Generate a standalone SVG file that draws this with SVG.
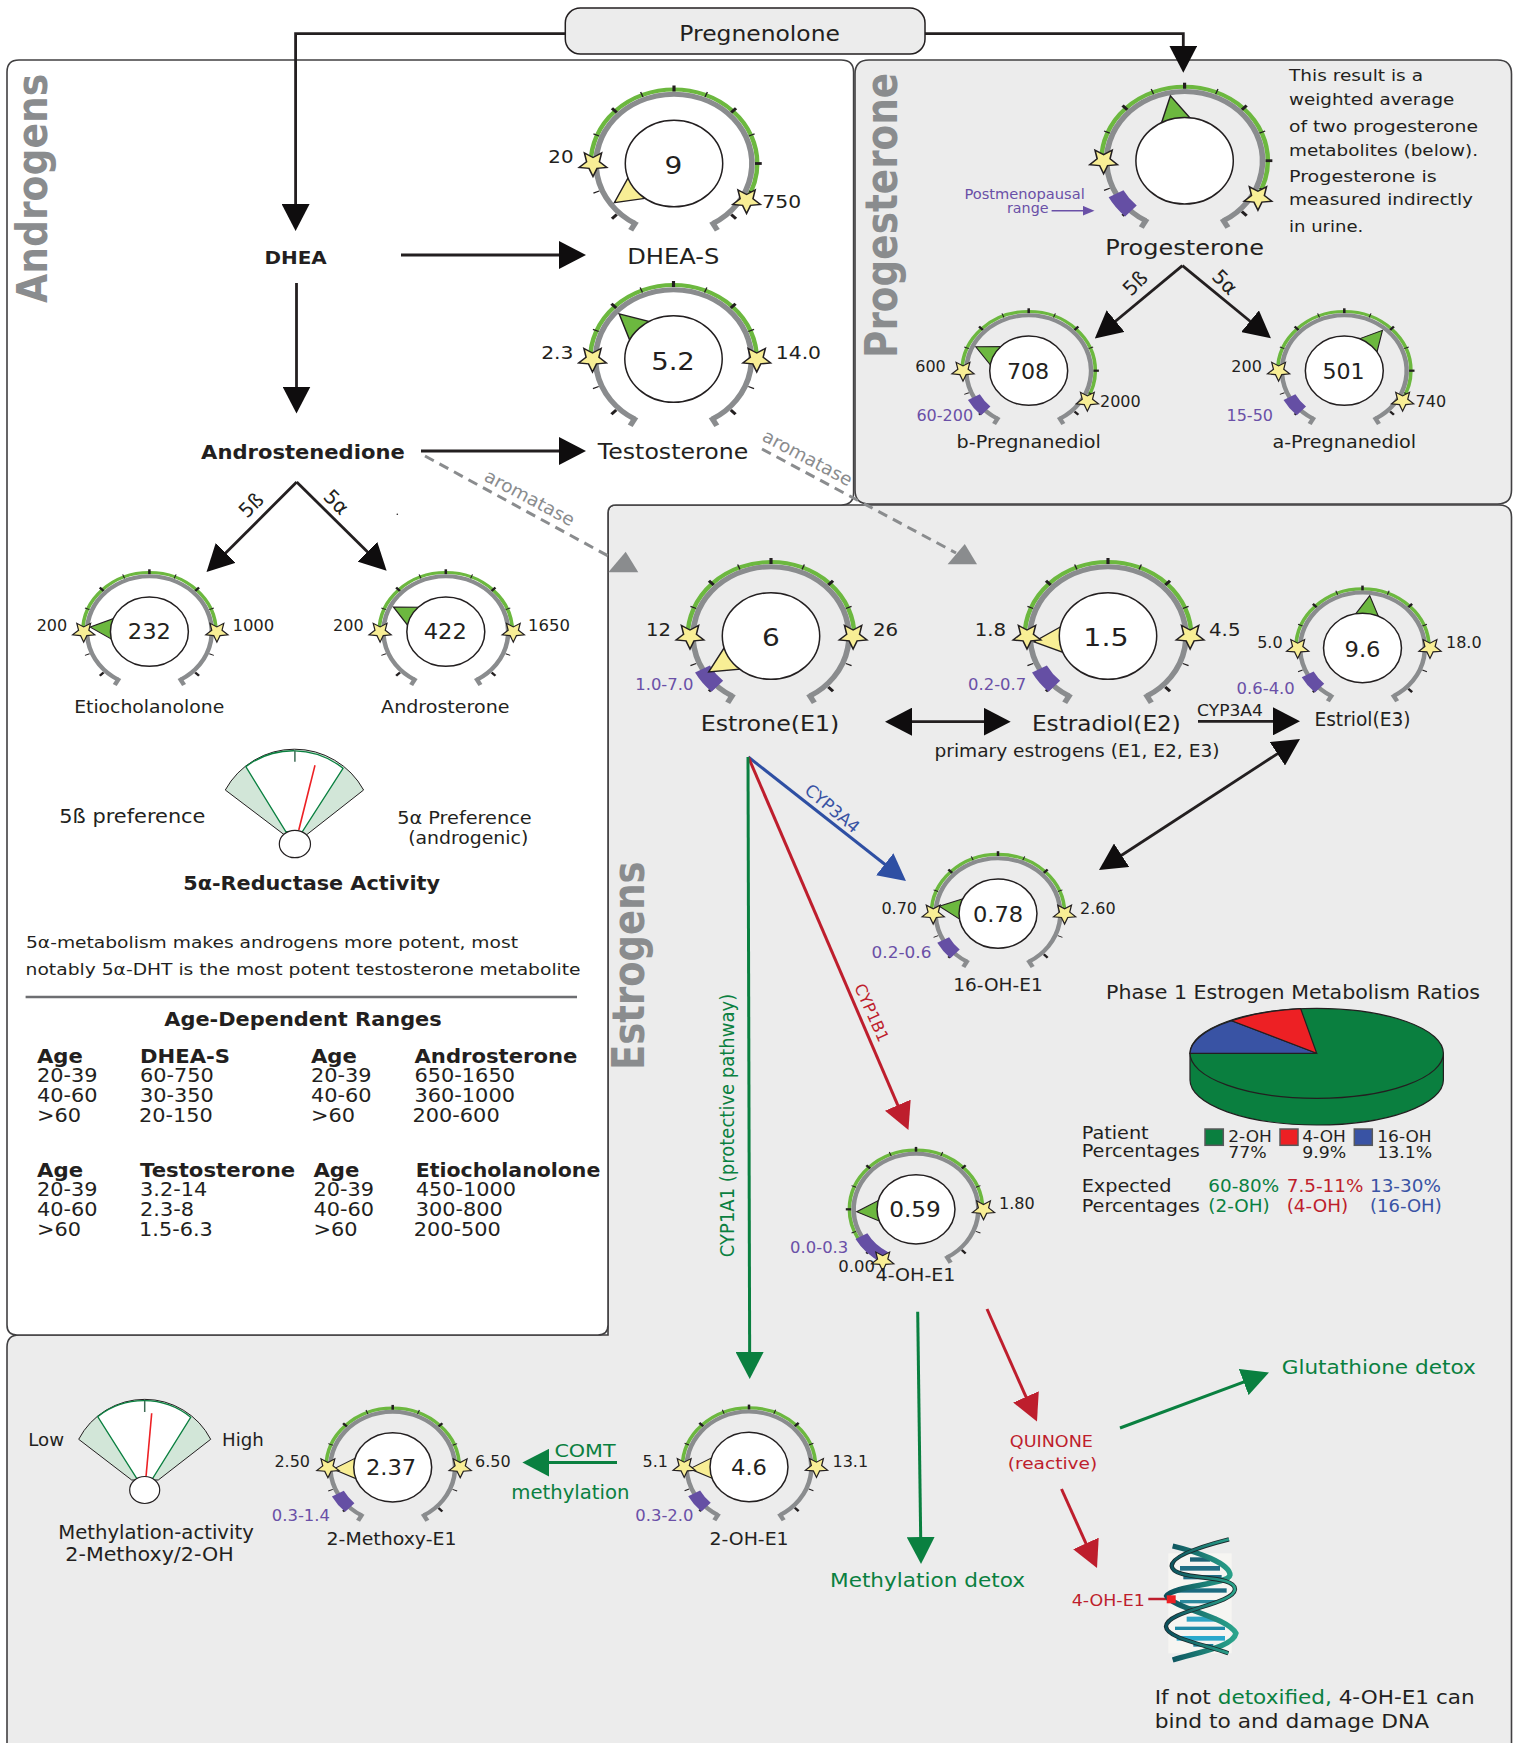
<svg xmlns="http://www.w3.org/2000/svg" width="1517" height="1743" viewBox="0 0 1517 1743">
<style>
text{font-family:"DejaVu Sans","Liberation Sans",sans-serif;fill:#231f20}
.m{text-anchor:middle}.e{text-anchor:end}.b{font-weight:bold}
.s15{font-size:15.5px}.s16{font-size:16px}.s17{font-size:17.5px}.s18{font-size:18px}.s19{font-size:19.5px}.s20{font-size:20px}.s21{font-size:21.5px}.s25{font-size:25px}
.pu{fill:#6a50a7}.gn{fill:#0a8040}.rd{fill:#be1e2d}.bl{fill:#3953a4}.gy{fill:#8a8c8e}
.ttl{font-weight:bold;fill:#8a8c8e}
.panel{stroke:#414042;stroke-width:1.6}
.ln{fill:none;stroke:#231f20;stroke-width:2.8}
.g{fill:none;stroke:#6cb83f;stroke-width:4}
.pr{fill:none;stroke:#654fa4;stroke-width:15}
.dl{fill:none;stroke:#8a8c8e;stroke-width:5}
.tm{stroke:#231f20;stroke-width:2.8}.tn{stroke:#231f20;stroke-width:1.2}
.py{fill:#f8ee95;stroke:#231f20;stroke-width:1.3;vector-effect:non-scaling-stroke}
.pg{fill:#6cb83f;stroke:#231f20;stroke-width:1.3;vector-effect:non-scaling-stroke}
.in{fill:#fff;stroke:#231f20;stroke-width:1.5;vector-effect:non-scaling-stroke}
.st{fill:#f8ee95;stroke:#231f20;stroke-width:1.4;vector-effect:non-scaling-stroke}
.sec{fill:#d2e6d8;stroke:#231f20;stroke-width:1}
.mid{fill:#fff;stroke:#0a8040;stroke-width:1.3}
</style>
<defs>
<path id="ring" d="M0,74A74,74 0 1 1 0,-74A74,74 0 1 1 0,74" pathLength="360"/>
<path id="ring2" d="M0,69.3A69.3,69.3 0 1 1 0,-69.3A69.3,69.3 0 1 1 0,69.3" pathLength="360"/>
<polygon id="star" points="0,13 3.53,4.85 12.36,4.02 5.71,-1.85 7.64,-10.52 0,-6 -7.64,-10.52 -5.71,-1.85 -12.36,4.02 -3.53,4.85"/>
<path id="pt" d="M0,-66L15,-37H-15Z"/>
<line id="M" class="tm" x1="0" y1="-72" x2="0" y2="-78"/>
<line id="N" class="tn" x1="0" y1="-72" x2="0" y2="-77.5"/>
<g id="dial">
<path class="dl" d="M-34.65,60A69.3,69.3 0 1 1 34.65,60"/>
<line class="dl" stroke-width="4" x1="0" y1="-67" x2="0" y2="-77" transform="rotate(150)"/>
<line class="dl" stroke-width="4" x1="0" y1="-67" x2="0" y2="-77" transform="rotate(-150)"/>
<use href="#M"/><use href="#N" transform="rotate(22.5)"/><use href="#M" transform="rotate(45)"/><use href="#N" transform="rotate(67.5)"/><use href="#M" transform="rotate(90)"/><use href="#N" transform="rotate(112.5)"/><use href="#M" transform="rotate(135)"/>
<use href="#N" transform="rotate(-22.5)"/><use href="#M" transform="rotate(-45)"/><use href="#N" transform="rotate(-67.5)"/><use href="#M" transform="rotate(-90)"/><use href="#N" transform="rotate(-112.5)"/><use href="#M" transform="rotate(-135)"/>
</g>
<marker id="ak" markerUnits="userSpaceOnUse" markerWidth="27" markerHeight="28" refX="17" refY="14" orient="auto-start-reverse"><path d="M0,0L27,14L0,28Z" fill="#0f0d0e"/></marker>
<marker id="ar" markerUnits="userSpaceOnUse" markerWidth="27" markerHeight="28" refX="17" refY="14" orient="auto"><path d="M0,0L27,14L0,28Z" fill="#be1e2d"/></marker>
<marker id="ag" markerUnits="userSpaceOnUse" markerWidth="27" markerHeight="28" refX="17" refY="14" orient="auto"><path d="M0,0L27,14L0,28Z" fill="#0a8040"/></marker>
<marker id="ab" markerUnits="userSpaceOnUse" markerWidth="27" markerHeight="28" refX="17" refY="14" orient="auto"><path d="M0,0L27,14L0,28Z" fill="#2e4fa3"/></marker>
<marker id="ap" markerUnits="userSpaceOnUse" markerWidth="12" markerHeight="10" refX="8" refY="5" orient="auto"><path d="M0,0L12,5L0,10Z" fill="#6a50a7"/></marker>
<linearGradient id="dna1" x1="0" x2="1" y1="0" y2="0"><stop offset="0" stop-color="#0c4f5c"/><stop offset="1" stop-color="#2ba58c"/></linearGradient>
</defs>

<g id="panels">
<path class="panel" fill="#ececec" d="M7,1750V1347Q7,1335 19,1335H608V513Q608,505 616,505H1499Q1511.5,505 1511.5,517V1750Z"/>
<path class="panel" fill="#fff" d="M7,72Q7,60 19,60H841Q853.6,60 853.6,72V493Q853.6,505 841,505H616Q608,505 608,513V1325Q608,1335 598,1335H17Q7,1335 7,1325Z"/>
<path class="panel" fill="#ececec" d="M855,74Q855,60 869,60H1497.5Q1511.5,60 1511.5,74V490Q1511.5,504 1497.5,504H869Q855,504 855,490Z"/>
<text class="ttl" font-size="37.7" transform="translate(46.7,303) scale(1.15,1) rotate(-90)">Androgens</text>
<text class="ttl" font-size="37.4" transform="translate(897.4,358) scale(1.18,1) rotate(-90)">Progesterone</text>
<text class="ttl" font-size="37" transform="translate(644.3,1070) scale(1.18,1) rotate(-90)">Estrogens</text>
<circle cx="397.3" cy="514.3" r=".8" fill="#231f20"/>
</g>

<g id="connectors">
<path class="ln" marker-end="url(#ak)" d="M565,33.7H295.6V221"/>
<path class="ln" marker-end="url(#ak)" d="M925,33.7H1183.3V62.7"/>
<path class="ln" marker-end="url(#ak)" d="M401,255H576"/>
<path class="ln" marker-end="url(#ak)" d="M296.5,283V403.5"/>
<path class="ln" marker-end="url(#ak)" d="M421,451H576"/>
<path class="ln" marker-end="url(#ak)" d="M296.7,482L213.6,565"/>
<path class="ln" marker-end="url(#ak)" d="M296.7,482L379.5,563.7"/>
<path class="ln" marker-end="url(#ak)" d="M1182.4,265.7L1102.5,332"/>
<path class="ln" marker-end="url(#ak)" d="M1182.4,265.7L1263.2,332"/>
<path class="ln" marker-start="url(#ak)" marker-end="url(#ak)" d="M895,721.7H1000.7"/>
<path class="ln" marker-end="url(#ak)" d="M1198,721.3H1290"/>
<path class="ln" marker-start="url(#ak)" marker-end="url(#ak)" d="M1291.6,744.5L1107.4,864.5"/>
<path fill="none" stroke="#8a8c8e" stroke-width="3" stroke-dasharray="10 6.5" d="M425,456L608.3,556"/>
<polygon class="gy" points="625.7,551.7 608.3,572.3 638.3,572.3"/>
<path fill="none" stroke="#8a8c8e" stroke-width="3" stroke-dasharray="10 6.5" d="M762,449L956,553"/>
<polygon class="gy" points="964.8,544 947.6,564.3 977,564.3"/>
<path fill="none" stroke="#2e4fa3" stroke-width="3" marker-end="url(#ab)" d="M748.3,757L898.1,874.8"/>
<path fill="none" stroke="#be1e2d" stroke-width="3" marker-end="url(#ar)" d="M748.3,757L904.5,1120.8"/>
<path fill="none" stroke="#0a8040" stroke-width="3" marker-end="url(#ag)" d="M748,757L749.7,1369"/>
<path fill="none" stroke="#0a8040" stroke-width="3" marker-end="url(#ag)" d="M917.7,1311.7L920.9,1554"/>
<path fill="none" stroke="#be1e2d" stroke-width="3" marker-end="url(#ar)" d="M987,1309L1032.9,1412.4"/>
<path fill="none" stroke="#0a8040" stroke-width="3" marker-end="url(#ag)" d="M1120,1428L1259.6,1376.1"/>
<path fill="none" stroke="#be1e2d" stroke-width="3" marker-end="url(#ar)" d="M1061.5,1489L1092.9,1558.9"/>
<path fill="none" stroke="#0a8040" stroke-width="3" marker-end="url(#ag)" d="M617,1462.6H532.4"/>
<path fill="none" stroke="#6a50a7" stroke-width="1.5" marker-end="url(#ap)" d="M1051.6,210.7H1090.5"/>
<path fill="none" stroke="#be1e2d" stroke-width="2.5" d="M1148.3,1599H1170"/>
<text class="s18 gy m" transform="translate(526.8,503.3) rotate(28) scale(1.03,1)">aromatase</text>
<text class="s18 gy m" transform="translate(804.6,463.3) rotate(28) scale(1.03,1)">aromatase</text>
<text class="s20 m" transform="translate(256,510) rotate(-45)">5ß</text>
<text class="s20 m" transform="translate(331.4,507) rotate(45)">5α</text>
<text class="s20 m" transform="translate(1140,288) rotate(-45)">5ß</text>
<text class="s20 m" transform="translate(1220,287) rotate(45)">5α</text>
<text class="s16 m" transform="matrix(1.07 0 0 1 1230 715.7)">CYP3A4</text>
<text class="m bl" font-size="17" transform="translate(828.5,813) rotate(40)">CYP3A4</text>
<text class="s16 m rd" transform="translate(866.6,1015) rotate(66)">CYP1B1</text>
<text class="s18 m gn" transform="translate(733.6,1125.5) scale(1.12,1) rotate(-90)">CYP1A1 (protective pathway)</text>
<text class="s18 m gn" transform="matrix(1.15 0 0 1 585 1457)">COMT</text>
<text class="s19 m gn" transform="matrix(1.01 0 0 1 570.4 1499)">methylation</text>
</g>

<g id="pregnenolone">
<rect x="565.3" y="8" width="359.7" height="46" rx="15" fill="#ececec" stroke="#231f20" stroke-width="1.5"/>
<text class="s21 m" transform="matrix(1.09 0 0 1 759.6 40.7)">Pregnenolone</text>
</g>
<g id="dhea"><text class="s18 b m" transform="matrix(1.11 0 0 1 295.6 263.5)">DHEA</text></g>
<g id="androstenedione"><text class="b m" font-size="19" transform="matrix(1.11 0 0 1 302.9 459)">Androstenedione</text></g>

<g id="dhea-s">
<g transform="translate(674,163.5) scale(1.125,1)">
<use href="#ring" class="g" style="stroke-dasharray:210 360;stroke-dashoffset:-90"/><use href="#dial"/>
<use href="#pt" class="py" transform="rotate(-126.5)"/><circle class="in" r="43.3"/>
<use href="#star" class="st" x="-72" y="0"/><use href="#star" class="st" x="64.5" y="37"/></g>
<text class="s25 m" transform="matrix(1.12 0 0 1 673.3 174)">9</text>
<text class="s18 e" transform="matrix(1.1 0 0 1 573.5 163.3)">20</text><text class="s18" transform="matrix(1.13 0 0 1 762.3 207.7)">750</text>
<text class="s21 m" transform="matrix(1.125 0 0 1 673.3 264)">DHEA-S</text>
</g>
<g id="testosterone">
<g transform="translate(673.5,359) scale(1.125,1)">
<use href="#ring" class="g" style="stroke-dasharray:180 360;stroke-dashoffset:-90"/><use href="#dial"/>
<use href="#pt" class="pg" transform="rotate(-47)"/><circle class="in" r="43.3"/>
<use href="#star" class="st" x="-72" y="0"/><use href="#star" class="st" x="74" y="0"/></g>
<text class="s25 m" transform="matrix(1.1 0 0 1 673 369.5)">5.2</text>
<text class="s18 e" transform="matrix(1.13 0 0 1 573.5 359)">2.3</text><text class="s18" transform="matrix(1.13 0 0 1 775.8 359)">14.0</text>
<text class="s21 m" transform="matrix(1.1 0 0 1 673 459)">Testosterone</text>
</g>
<g id="etiocholanolone">
<g transform="translate(149.4,631.7) scale(.9,.8)">
<use href="#ring" class="g" style="stroke-dasharray:180 360;stroke-dashoffset:-90"/><use href="#dial"/>
<use href="#pt" class="pg" transform="rotate(-85)"/><circle class="in" r="43.3"/>
<use href="#star" class="st" x="-73" y="0"/><use href="#star" class="st" x="75" y="0"/></g>
<text class="s21 m" transform="matrix(1.05 0 0 1 149.4 639)">232</text>
<text class="s16 e" x="67.2" y="631">200</text><text class="s16" transform="matrix(1.03 0 0 1 232.4 631)">1000</text>
<text class="s17 m" transform="matrix(1.075 0 0 1 149.2 713.3)">Etiocholanolone</text>
</g>
<g id="androsterone">
<g transform="translate(445.8,631.7) scale(.9,.8)">
<use href="#ring" class="g" style="stroke-dasharray:180 360;stroke-dashoffset:-90"/><use href="#dial"/>
<use href="#pt" class="pg" transform="rotate(-62)"/><circle class="in" r="43.3"/>
<use href="#star" class="st" x="-73" y="0"/><use href="#star" class="st" x="75" y="0"/></g>
<text class="s21 m" transform="matrix(1.05 0 0 1 445.3 639)">422</text>
<text class="s16 e" x="363.6" y="631">200</text><text class="s16" transform="matrix(1.03 0 0 1 528 631)">1650</text>
<text class="s17 m" transform="matrix(1.09 0 0 1 445.3 713.3)">Androsterone</text>
</g>

<g id="reductase-meter">
<path class="sec" d="M284.6,835L225.3,790A79,79 0 0 1 363.6,790L306.3,835Z"/>
<path class="mid" d="M285.8,831.7L245.8,766.7A79,79 0 0 1 343,768.3L302.4,831.7Z"/>
<line x1="294.9" y1="750.7" x2="294.9" y2="761.7" stroke="#3d6b55" stroke-width="1.5"/>
<line x1="315" y1="765.3" x2="298.8" y2="830" stroke="#ed2024" stroke-width="1.6"/>
<ellipse cx="294.9" cy="844" rx="15.6" ry="13.7" fill="#fff" stroke="#231f20" stroke-width="1.2"/>
<text class="s19 m" style="font-size:19px" transform="matrix(1.1 0 0 1 132.4 823.3)">5ß preference</text>
<text class="m" font-size="17" transform="matrix(1.135 0 0 1 464.4 824)">5α Preference</text>
<text class="m" font-size="17" transform="matrix(1.11 0 0 1 468.2 844.3)">(androgenic)</text>
<text class="s20 b m" transform="matrix(1.04 0 0 1 311.6 890)">5α-Reductase Activity</text>
</g>

<g id="androgen-notes">
<text font-size="16.5" x="26" y="948.3" textLength="492" lengthAdjust="spacingAndGlyphs">5α-metabolism makes androgens more potent, most</text>
<text font-size="16.5" x="25.6" y="974.7" textLength="555" lengthAdjust="spacingAndGlyphs">notably 5α-DHT is the most potent testosterone metabolite</text>
<line x1="25.6" y1="997" x2="577" y2="997" stroke="#6d6e71" stroke-width="2.5"/>
<text class="b m" font-size="19" transform="matrix(1.1 0 0 1 303 1026)">Age-Dependent Ranges</text>
<g class="tbl">
<text class="s19 b" transform="matrix(1.085 0 0 1 37 1062.6)">Age</text><text class="s19 b" transform="matrix(1.085 0 0 1 140 1062.6)">DHEA-S</text><text class="s19 b" transform="matrix(1.085 0 0 1 311 1062.6)">Age</text><text class="s19 b" transform="matrix(1.085 0 0 1 414.5 1062.6)">Androsterone</text>
<text class="s19" transform="matrix(1.07 0 0 1 37 1082)">20-39</text><text class="s19" transform="matrix(1.07 0 0 1 140 1082)">60-750</text><text class="s19" transform="matrix(1.07 0 0 1 311 1082)">20-39</text><text class="s19" transform="matrix(1.07 0 0 1 414.5 1082)">650-1650</text>
<text class="s19" transform="matrix(1.07 0 0 1 37 1102.4)">40-60</text><text class="s19" transform="matrix(1.07 0 0 1 140 1102.4)">30-350</text><text class="s19" transform="matrix(1.07 0 0 1 311 1102.4)">40-60</text><text class="s19" transform="matrix(1.07 0 0 1 414.5 1102.4)">360-1000</text>
<text class="s19" transform="matrix(1.07 0 0 1 37 1122.4)">&gt;60</text><text class="s19" transform="matrix(1.07 0 0 1 139 1122.4)">20-150</text><text class="s19" transform="matrix(1.07 0 0 1 311 1122.4)">&gt;60</text><text class="s19" transform="matrix(1.07 0 0 1 412.5 1122.4)">200-600</text>
<text class="s19 b" transform="matrix(1.09 0 0 1 37 1177)">Age</text><text class="s19 b" transform="matrix(1.09 0 0 1 140 1177)">Testosterone</text><text class="s19 b" transform="matrix(1.09 0 0 1 313.4 1177)">Age</text><text class="s19 b" transform="matrix(1.05 0 0 1 415.7 1177)">Etiocholanolone</text>
<text class="s19" transform="matrix(1.07 0 0 1 37 1196)">20-39</text><text class="s19" transform="matrix(1.07 0 0 1 140 1196)">3.2-14</text><text class="s19" transform="matrix(1.07 0 0 1 313.4 1196)">20-39</text><text class="s19" transform="matrix(1.07 0 0 1 415.7 1196)">450-1000</text>
<text class="s19" transform="matrix(1.07 0 0 1 37 1216)">40-60</text><text class="s19" transform="matrix(1.07 0 0 1 140 1216)">2.3-8</text><text class="s19" transform="matrix(1.07 0 0 1 313.4 1216)">40-60</text><text class="s19" transform="matrix(1.07 0 0 1 415.7 1216)">300-800</text>
<text class="s19" transform="matrix(1.07 0 0 1 37 1236)">&gt;60</text><text class="s19" transform="matrix(1.07 0 0 1 139 1236)">1.5-6.3</text><text class="s19" transform="matrix(1.07 0 0 1 313.4 1236)">&gt;60</text><text class="s19" transform="matrix(1.07 0 0 1 413.7 1236)">200-500</text>
</g>
</g>

<g id="progesterone">
<g transform="translate(1184.6,160.7) scale(1.125,1)">
<use href="#ring" class="g" style="stroke-dasharray:210 360;stroke-dashoffset:-90"/><use href="#dial"/>
<use href="#ring2" class="pr" style="stroke-dasharray:18 360;stroke-dashoffset:-43.5"/>
<use href="#pt" class="pg" transform="rotate(-11)"/><circle class="in" r="43.3"/>
<use href="#star" class="st" x="-72" y="0"/><use href="#star" class="st" x="65.2" y="36.6"/></g>
<text class="s21 m" transform="matrix(1.117 0 0 1 1184.6 255)">Progesterone</text>
<text class="pu m" font-size="14.5" x="1024.6" y="199" textLength="120.4" lengthAdjust="spacingAndGlyphs">Postmenopausal</text>
<text class="pu" font-size="14.5" x="1007" y="212.5" textLength="41.5" lengthAdjust="spacingAndGlyphs">range</text>
<text font-size="16.5" x="1289" y="81" textLength="134" lengthAdjust="spacingAndGlyphs">This result is a</text>
<text font-size="16.5" x="1289" y="105" textLength="165.4" lengthAdjust="spacingAndGlyphs">weighted average</text>
<text font-size="16.5" x="1289" y="131.7" textLength="189" lengthAdjust="spacingAndGlyphs">of two progesterone</text>
<text font-size="16.5" x="1289" y="156" textLength="189" lengthAdjust="spacingAndGlyphs">metabolites (below).</text>
<text font-size="16.5" x="1289" y="181.7" textLength="147.7" lengthAdjust="spacingAndGlyphs">Progesterone is</text>
<text font-size="16.5" x="1289" y="205" textLength="184" lengthAdjust="spacingAndGlyphs">measured indirectly</text>
<text font-size="16.5" x="1289" y="231.7" textLength="74.3" lengthAdjust="spacingAndGlyphs">in urine.</text>
</g>
<g id="b-pregnanediol">
<g transform="translate(1028.7,370.7) scale(.9,.8)">
<use href="#ring" class="g" style="stroke-dasharray:210 360;stroke-dashoffset:-90"/><use href="#dial"/>
<use href="#ring2" class="pr" style="stroke-dasharray:18 360;stroke-dashoffset:-43.5"/>
<use href="#pt" class="pg" transform="rotate(-63)"/><circle class="in" r="43.3"/>
<use href="#star" class="st" x="-73" y="0"/><use href="#star" class="st" x="65.2" y="37.5"/></g>
<text class="s21 m" transform="matrix(1.03 0 0 1 1028 379.3)">708</text>
<text class="s16 e" x="945.8" y="371.7">600</text><text class="s16" x="1100" y="407.3">2000</text>
<text class="s16 pu" x="916.4" y="420.7">60-200</text>
<text class="s18 m" transform="matrix(1.066 0 0 1 1028.7 448.3)">b-Pregnanediol</text>
</g>
<g id="a-pregnanediol">
<g transform="translate(1344.3,370.7) scale(.9,.8)">
<use href="#ring" class="g" style="stroke-dasharray:210 360;stroke-dashoffset:-90"/><use href="#dial"/>
<use href="#ring2" class="pr" style="stroke-dasharray:18 360;stroke-dashoffset:-43.5"/>
<use href="#pt" class="pg" transform="rotate(40)"/><circle class="in" r="43.3"/>
<use href="#star" class="st" x="-73" y="0"/><use href="#star" class="st" x="64.8" y="37.5"/></g>
<text class="s21 m" transform="matrix(1.03 0 0 1 1343.5 379.3)">501</text>
<text class="s16 e" x="1261.9" y="371.7">200</text><text class="s16" x="1415.6" y="407.3">740</text>
<text class="s16 pu e" x="1273" y="420.7">15-50</text>
<text class="s18 m" transform="matrix(1.066 0 0 1 1344.3 448.3)">a-Pregnanediol</text>
</g>

<g id="estrone">
<g transform="translate(771,636) scale(1.125,1)">
<use href="#ring" class="g" style="stroke-dasharray:180 360;stroke-dashoffset:-90"/><use href="#dial"/>
<use href="#ring2" class="pr" style="stroke-dasharray:18 360;stroke-dashoffset:-43.5"/>
<use href="#pt" class="py" transform="rotate(-123)"/><circle class="in" r="43.3"/>
<use href="#star" class="st" x="-72" y="0"/><use href="#star" class="st" x="73" y="0"/></g>
<text class="s25 m" transform="matrix(1.12 0 0 1 771 646)">6</text>
<text class="s18 e" transform="matrix(1.09 0 0 1 671 636)">12</text><text class="s18" transform="matrix(1.1 0 0 1 873 636)">26</text>
<text class="s15 pu e" transform="matrix(1.06 0 0 1 693.4 690)">1.0-7.0</text>
<text class="s21 m" transform="matrix(1.105 0 0 1 770 730.7)">Estrone(E1)</text>
</g>
<g id="estradiol">
<g transform="translate(1108,636) scale(1.125,1)">
<use href="#ring" class="g" style="stroke-dasharray:180 360;stroke-dashoffset:-90"/><use href="#dial"/>
<use href="#ring2" class="pr" style="stroke-dasharray:18 360;stroke-dashoffset:-43.5"/>
<use href="#pt" class="py" transform="rotate(-95)"/><circle class="in" r="43.3"/>
<use href="#star" class="st" x="-72" y="0"/><use href="#star" class="st" x="73" y="0"/></g>
<text class="s25 m" transform="matrix(1.14 0 0 1 1106 646)">1.5</text>
<text class="s18 e" transform="matrix(1.1 0 0 1 1006.2 636)">1.8</text><text class="s18" transform="matrix(1.1 0 0 1 1209 636)">4.5</text>
<text class="s15 pu e" transform="matrix(1.06 0 0 1 1026.2 690)">0.2-0.7</text>
<text class="s21 m" transform="matrix(1.08 0 0 1 1106.4 730.7)">Estradiol(E2)</text>
<text class="m" font-size="17" transform="matrix(1.094 0 0 1 1077 757.3)">primary estrogens (E1, E2, E3)</text>
</g>
<g id="estriol">
<g transform="translate(1362.5,648) scale(.9,.8)">
<use href="#ring" class="g" style="stroke-dasharray:180 360;stroke-dashoffset:-90"/><use href="#dial"/>
<use href="#ring2" class="pr" style="stroke-dasharray:18 360;stroke-dashoffset:-43.5"/>
<use href="#pt" class="pg" transform="rotate(7)"/><circle class="in" r="43.3"/>
<use href="#star" class="st" x="-72" y="0"/><use href="#star" class="st" x="75" y="0"/></g>
<text class="s21 m" transform="matrix(1.05 0 0 1 1362.5 657)">9.6</text>
<text class="s16 e" x="1282.6" y="648">5.0</text><text class="s16" x="1446" y="648">18.0</text>
<text class="s15 pu e" transform="matrix(1.06 0 0 1 1294.8 693.5)">0.6-4.0</text>
<text class="m" font-size="18.6" x="1362.5" y="725.6">Estriol(E3)</text>
</g>
<g id="oh16-e1">
<g transform="translate(998,913.6) scale(.9,.8)">
<use href="#ring" class="g" style="stroke-dasharray:180 360;stroke-dashoffset:-90"/><use href="#dial"/>
<use href="#ring2" class="pr" style="stroke-dasharray:18 360;stroke-dashoffset:-43.5"/>
<use href="#pt" class="pg" transform="rotate(-82)"/><circle class="in" r="43.3"/>
<use href="#star" class="st" x="-72" y="0"/><use href="#star" class="st" x="74" y="0"/></g>
<text class="s21 m" transform="matrix(1.05 0 0 1 998 922)">0.78</text>
<text class="s16 e" x="917" y="913.6">0.70</text><text class="s16" x="1080" y="913.6">2.60</text>
<text class="s15 pu e" transform="matrix(1.09 0 0 1 931.4 958)">0.2-0.6</text>
<text class="s18 m" transform="matrix(1.03 0 0 1 998 990.5)">16-OH-E1</text>
</g>
<g id="oh4-e1">
<g transform="translate(916,1209.3) scale(.9,.8)">
<use href="#ring" class="g" style="stroke-dasharray:240 360;stroke-dashoffset:-30"/><use href="#dial"/>
<use href="#ring2" class="pr" style="stroke-dasharray:31 360;stroke-dashoffset:-30"/>
<use href="#pt" class="pg" transform="rotate(-92.6)"/><circle class="in" r="43.3"/>
<use href="#star" class="st" x="-37" y="64"/><use href="#star" class="st" x="75" y="0"/></g>
<text class="s21 m" transform="matrix(1.08 0 0 1 915 1217.3)">0.59</text>
<text class="s16" x="999" y="1209.3">1.80</text>
<text class="s15 pu e" transform="matrix(1.06 0 0 1 848.3 1253.3)">0.0-0.3</text>
<text class="s16 e" transform="matrix(1.03 0 0 1 875 1272.3)">0.00</text>
<text class="s18 m" transform="matrix(1.06 0 0 1 915.5 1281.3)">4-OH-E1</text>
</g>
<g id="oh2-e1">
<g transform="translate(749,1467) scale(.9,.8)">
<use href="#ring" class="g" style="stroke-dasharray:180 360;stroke-dashoffset:-90"/><use href="#dial"/>
<use href="#ring2" class="pr" style="stroke-dasharray:18 360;stroke-dashoffset:-43.5"/>
<use href="#pt" class="py" transform="rotate(-92)"/><circle class="in" r="43.3"/>
<use href="#star" class="st" x="-72" y="0"/><use href="#star" class="st" x="75" y="0"/></g>
<text class="s21 m" transform="matrix(1.05 0 0 1 749 1475)">4.6</text>
<text class="s16 e" x="668" y="1467">5.1</text><text class="s16" x="832.5" y="1467">13.1</text>
<text class="s15 pu e" transform="matrix(1.06 0 0 1 693.5 1520.7)">0.3-2.0</text>
<text class="s18 m" transform="matrix(1.05 0 0 1 749 1545)">2-OH-E1</text>
</g>
<g id="methoxy2-e1">
<g transform="translate(392.7,1467.3) scale(.9,.8)">
<use href="#ring" class="g" style="stroke-dasharray:180 360;stroke-dashoffset:-90"/><use href="#dial"/>
<use href="#ring2" class="pr" style="stroke-dasharray:18 360;stroke-dashoffset:-43.5"/>
<use href="#pt" class="py" transform="rotate(-92)"/><circle class="in" r="43.3"/>
<use href="#star" class="st" x="-72" y="0"/><use href="#star" class="st" x="75" y="0"/></g>
<text class="s21 m" transform="matrix(1.05 0 0 1 391 1475)">2.37</text>
<text class="s16 e" x="310" y="1467.3">2.50</text><text class="s16" x="475" y="1467.3">6.50</text>
<text class="s15 pu e" transform="matrix(1.06 0 0 1 330 1520.7)">0.3-1.4</text>
<text class="s18 m" transform="matrix(1.05 0 0 1 391.5 1545)">2-Methoxy-E1</text>
</g>

<g id="methylation-meter">
<path class="sec" d="M131.7,1480L78.7,1439.3A74.5,74.5 0 0 1 210.7,1439.3L158.3,1480Z"/>
<path class="mid" d="M136.7,1478.3L97.7,1416.7A74.5,74.5 0 0 1 190.7,1417.3L152.7,1478.3Z"/>
<line x1="144.7" y1="1401" x2="144.7" y2="1412" stroke="#3d6b55" stroke-width="1.5"/>
<line x1="151.7" y1="1413.3" x2="146" y2="1476.7" stroke="#ed2024" stroke-width="1.6"/>
<ellipse cx="144.7" cy="1490" rx="15" ry="13.5" fill="#fff" stroke="#231f20" stroke-width="1.2"/>
<text font-size="17" transform="matrix(1.07 0 0 1 28.3 1445.7)">Low</text>
<text font-size="17" transform="matrix(1.07 0 0 1 222 1445.7)">High</text>
<text class="m" font-size="19" transform="matrix(1.035 0 0 1 156 1539.3)">Methylation-activity</text>
<text class="m" font-size="19" transform="matrix(1.085 0 0 1 149.5 1560.7)">2-Methoxy/2-OH</text>
</g>

<g id="pie">
<text font-size="19.5" transform="matrix(1.055 0 0 1 1106 999.3)">Phase 1 Estrogen Metabolism Ratios</text>
<path fill="#0a7f3f" stroke="#231f20" stroke-width="1.2" d="M1190,1053.3V1080A126.7,45 0 0 0 1443.4,1080V1053.3Z"/>
<ellipse cx="1316.7" cy="1053.3" rx="126.7" ry="45" fill="#0a7f3f" stroke="#231f20" stroke-width="1.2"/>
<path fill="#3953a4" stroke="#231f20" stroke-width="1.2" d="M1316.7,1053.3H1190A126.7,45 0 0 1 1231.7,1020.7Z"/>
<path fill="#ed2024" stroke="#231f20" stroke-width="1.2" d="M1316.7,1053.3L1231.7,1020.7A126.7,45 0 0 1 1300.7,1008.7Z"/>
<rect x="1205" y="1129" width="18.3" height="16.3" fill="#0a7f3f" stroke="#58595b" stroke-width="1.5"/>
<rect x="1280" y="1129" width="18" height="16.3" fill="#ed2024" stroke="#58595b" stroke-width="1.5"/>
<rect x="1354.3" y="1129" width="18" height="16.3" fill="#3953a4" stroke="#58595b" stroke-width="1.5"/>
<text class="s17" transform="matrix(1.1 0 0 1 1081.7 1139.3)">Patient</text>
<text class="s17" transform="matrix(1.1 0 0 1 1081.7 1157.3)">Percentages</text>
<text font-size="16.5" transform="matrix(1.03 0 0 1 1228.3 1142)">2-OH</text><text font-size="16.5" transform="matrix(1.05 0 0 1 1228.3 1158.3)">77%</text>
<text font-size="16.5" transform="matrix(1.03 0 0 1 1302.3 1142)">4-OH</text><text font-size="16.5" transform="matrix(1.05 0 0 1 1302.3 1158.3)">9.9%</text>
<text font-size="16.5" transform="matrix(1.03 0 0 1 1377.3 1142)">16-OH</text><text font-size="16.5" transform="matrix(1.05 0 0 1 1377.3 1158.3)">13.1%</text>
<text class="s17" transform="matrix(1.1 0 0 1 1081.7 1191.7)">Expected</text>
<text class="s17" transform="matrix(1.1 0 0 1 1081.7 1212.3)">Percentages</text>
<text class="s17 gn" transform="matrix(1.05 0 0 1 1208.3 1191.7)">60-80%</text><text class="s17 gn" transform="matrix(1.05 0 0 1 1208.3 1212.3)">(2-OH)</text>
<text class="s17 rd" transform="matrix(1.05 0 0 1 1286.7 1191.7)">7.5-11%</text><text class="s17 rd" transform="matrix(1.05 0 0 1 1286.7 1212.3)">(4-OH)</text>
<text class="s17 bl" transform="matrix(1.05 0 0 1 1370 1191.7)">13-30%</text><text class="s17 bl" transform="matrix(1.03 0 0 1 1370 1212.3)">(16-OH)</text>
</g>

<g id="outcomes">
<text class="s16 rd m" transform="matrix(1.1 0 0 1 1051.4 1447)">QUINONE</text>
<text class="s16 rd m" transform="matrix(1.16 0 0 1 1052.5 1469)">(reactive)</text>
<text class="s20 gn m" transform="matrix(1.08 0 0 1 1378.7 1373.7)">Glutathione detox</text>
<text class="s20 gn m" transform="matrix(1.08 0 0 1 927.5 1587)">Methylation detox</text>
</g>

<g id="dna">
<g transform="translate(1150,1520) scale(.3333)">
<rect x="55" y="100" width="190" height="300" fill="#f6f5f2"/>
<rect x="120" y="112" width="60" height="13" fill="#1d6376"/>
<rect x="90" y="138" width="120" height="14" fill="#216f85"/>
<rect x="100" y="165" width="115" height="13" fill="#216f85"/>
<rect x="80" y="205" width="150" height="13" fill="#1c6b80"/>
<rect x="90" y="240" width="110" height="10" fill="#2b8a9e"/>
<rect x="100" y="258" width="60" height="7" fill="#46a0a0"/>
<rect x="110" y="290" width="90" height="15" fill="#2ea5c5"/>
<rect x="75" y="320" width="150" height="10" fill="#1f8aa6"/>
<rect x="80" y="348" width="145" height="14" fill="#2aa9cc"/>
<rect x="130" y="372" width="60" height="8" fill="#1d8099"/>
<path fill="none" stroke="url(#dna1)" stroke-width="16" d="M68,78C140,95 240,130 240,165C235,195 70,195 50,228C70,265 230,290 258,340C250,380 150,395 68,420"/>
<path fill="none" stroke="#1a2a2c" stroke-width="13" d="M237,58C170,75 65,105 65,138C70,185 255,160 255,208C250,255 50,270 48,320C50,355 170,375 235,400"/>
<path fill="none" stroke="url(#dna1)" stroke-width="8" d="M237,58C170,75 65,105 65,138C70,185 255,160 255,208C250,255 50,270 48,320C50,355 170,375 235,400"/>
</g>
<rect x="1166.7" y="1595.3" width="9" height="8" fill="#ed2024"/>
<text class="s16 rd" transform="matrix(1.09 0 0 1 1071.7 1605.7)">4-OH-E1</text>
<text class="s20" x="1154.7" y="1703.8" textLength="320" lengthAdjust="spacingAndGlyphs">If not <tspan class="gn">detoxified,</tspan> 4-OH-E1 can</text>
<text class="s20" x="1154.7" y="1728" textLength="274.5" lengthAdjust="spacingAndGlyphs">bind to and damage DNA</text>
</g>
</svg>
